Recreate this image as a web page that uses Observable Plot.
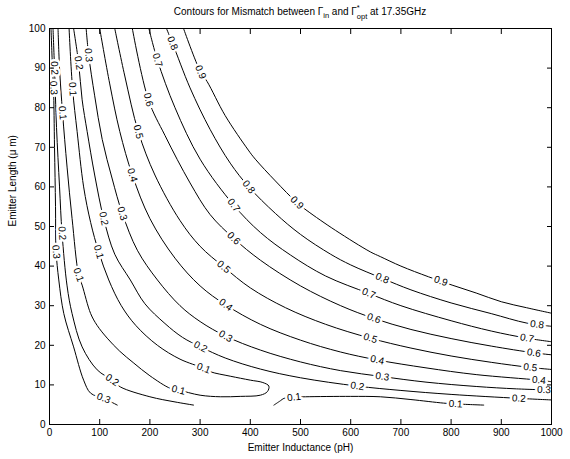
<!DOCTYPE html>
<html><head><meta charset="utf-8">
<script src="https://cdn.jsdelivr.net/npm/d3@7"></script>
<script src="https://cdn.jsdelivr.net/npm/@observablehq/plot@0.6"></script>
<style>
body{margin:0;background:#fff;font-family:"Liberation Sans",Arial,sans-serif;}
#wrap{width:570px;height:459px;position:relative;overflow:hidden;}
#title{height:20px;box-sizing:border-box;padding:3px 19px 0 49px;text-align:center;font-size:10px;line-height:11px;white-space:nowrap;}
#title sub{font-size:7.5px;vertical-align:-3px;line-height:0;}
.st{display:inline-block;vertical-align:-4px;line-height:9px;font-size:7.5px;text-align:left;}
.st span{display:block;height:9px;}
</style></head>
<body><div id="wrap"><div id="title">Contours for Mismatch between &Gamma;<sub>in</sub> and &Gamma;<span class="st"><span>*</span><span>opt</span></span> at 17.35GHz</div><div id="chart"></div></div>
<script>
const xTicks = [0,100,200,300,400,500,600,700,800,900,1000];
const yTicks = [0,10,20,30,40,50,60,70,80,90,100];
const xLabel = "Emitter Inductance (pH)";
const yLabel = "Emitter Length (\u03bc m)";

// contour polylines: [inductance pH, length um]
const c09 = [[267,100],[301,89],[314,86.6],[350,78],[396,69.3],[410,67],[450,61.5],[493,56],[513,54],[570,49],[639,43.6],[659,42.4],[700,40],[755,37.3],[802,35.2],[850,33.2],[900,31],[950,29.5],[1000,28.1]];
const c08 = [[233,100],[245,96.3],[280,85],[320,74.5],[360,66],[397,60],[450,53.3],[500,48],[560,43],[600,40.3],[663,36.9],[720,34],[800,30.7],[880,28],[951,25.6],[1000,24.8]];
const c07 = [[198,100],[215,92],[250,80],[300,67],[367,55.4],[420,48.5],[480,42.8],[550,37.5],[636,33.1],[700,30],[800,26.2],[880,23.6],[951,21.8],[1000,20.9]];
const c06 = [[165,100],[197,82],[230,73],[280,61],[320,53],[367,47],[420,41.5],[500,35],[580,30],[646,26.8],[720,24],[800,21.7],[880,19.8],[965,18.1],[1000,17.6]];
const c05 = [[130,100],[150,88],[177,73.9],[210,63],[260,51.5],[300,45],[347,39.8],[400,34.5],[470,29.5],[550,25.3],[639,21.8],[720,19.3],[800,17.3],[880,15.7],[958,14.4],[1000,13.9]];
const c04 = [[100,100],[120,86],[140,74],[165,63],[200,52],[250,42],[300,35],[351,30.2],[420,25.3],[500,21.3],[580,18.3],[653,16.3],[750,14.3],[850,12.6],[975,11.2],[1000,10.8]];
const c03R = [[73,100],[78,93.3],[90,83],[105,72],[125,62],[145,53.3],[175,44],[215,36.5],[260,30],[300,26],[351,22.3],[420,18.8],[500,15.8],[580,13.6],[663,12.1],[750,10.7],[850,9.6],[930,9.0],[1000,8.7]];
const c02R = [[48,100],[58,91.3],[65,82],[75,74],[90,63],[108,52],[130,43],[161,36.5],[190,30.5],[230,25.5],[265,22],[301,19.6],[350,16.8],[420,14],[500,11.8],[613,9.7],[700,8.6],[800,7.6],[935,6.6],[1000,6.2]];
const c01 = [[39,100],[46,84.7],[55,74],[68,60],[82,51],[98,43.6],[118,36.5],[143,30],[172,25],[215,20],[260,16.5],[307,14.2],[321,13.3],[360,12.2],[400,11.2],[425,10.6],[437,9.7],[434,8.3],[420,7.4],[380,7.1],[341,7.0],[300,7.4],[257,8.7],[241,9.1],[200,12.3],[168,15.5],[140,18.5],[115,21.8],[95,25],[82,28],[65,35.2],[58,37.8],[45,52],[35,65],[26,78.7],[20,90],[17,100]];
const c02L = [[7,100],[10,90],[14,75],[20,60],[25,48.3],[35,35],[45,28],[65,19.6],[95,13.8],[125,11.2],[141,9.5],[200,7],[250,5.7],[287,4.9]];
const c03L = [[3,100],[6,90],[8,85],[10,70],[12,55],[13,44],[18.5,36.5],[28.5,28],[48,19.6],[68,11.2],[82,7.9],[108,6.6],[135,4.9]];
const c01B = [[447,4.9],[460,6],[467,6.6],[487,6.9],[510,7.0],[600,7.1],[659,7.0],[720,6.3],[785,5.4],[809,5.2],[865,4.9]];

// where the inline labels sit
const lab09 = [[301,89],[493,56],[779,36]];
const lab08 = [[245,96.3],[397,60],[663,36.9],[971,25.1]];
const lab07 = [[215,92],[367,55.4],[636,33.1],[951,21.8]];
const lab06 = [[197,82],[367,47],[646,26.8],[965,18.1]];
const lab05 = [[177,73.9],[347,39.8],[639,21.8],[958,14.4]];
const lab04 = [[165,63],[351,30.2],[653,16.3],[975,11.2]];
const lab03R = [[78,93.3],[145,53.3],[351,22.3],[663,12.1],[985,8.6]];
const lab02R = [[58,91.3],[108,52],[301,19.6],[613,9.7],[935,6.6]];
const lab01 = [[46,84.7],[98,43.6],[307,14.2],[257,8.7],[58,37.8],[26,78.7]];
const lab02L = [[10,90],[25,48.3],[125,11.2]];
const lab03L = [[8,85],[12,43.6],[108,6.6]];
const lab01B = [[487,6.9],[809,5.2]];

const contours = [
  {id:"c09", level:"0.9", pts:c09, at:lab09},
  {id:"c08", level:"0.8", pts:c08, at:lab08},
  {id:"c07", level:"0.7", pts:c07, at:lab07},
  {id:"c06", level:"0.6", pts:c06, at:lab06},
  {id:"c05", level:"0.5", pts:c05, at:lab05},
  {id:"c04", level:"0.4", pts:c04, at:lab04},
  {id:"c03R", level:"0.3", pts:c03R, at:lab03R},
  {id:"c02R", level:"0.2", pts:c02R, at:lab02R},
  {id:"c01", level:"0.1", pts:c01, at:lab01},
  {id:"c02L", level:"0.2", pts:c02L, at:lab02L},
  {id:"c03L", level:"0.3", pts:c03L, at:lab03L},
  {id:"c01B", level:"0.1", pts:c01B, at:lab01B}
];

const W=570, H=439, ML=49, MR=19, MT=8, MB=35;
const dims = {width:W, height:H, marginLeft:ML, marginRight:MR, marginTop:MT, marginBottom:MB,
  x:{domain:[0,1000]}, y:{domain:[0,100]}};
const probe = Plot.plot({...dims, marks:[Plot.frame()]});
const sx = probe.scale("x"), sy = probe.scale("y");

function snap(c, lx, ly) {
  const P = c.pts.map(([a,b]) => [sx.apply(a), sy.apply(b)]);
  const qx = sx.apply(lx), qy = sy.apply(ly);
  let best = null;
  for (let i = 0; i < P.length-1; i++) {
    const [x0,y0] = P[i], [x1,y1] = P[i+1];
    const dx = x1-x0, dy = y1-y0, L2 = dx*dx+dy*dy || 1;
    let t = ((qx-x0)*dx + (qy-y0)*dy)/L2; t = Math.max(0, Math.min(1, t));
    const px = x0+t*dx, py = y0+t*dy;
    const d = (px-qx)**2 + (py-qy)**2;
    if (!best || d < best.d) best = {d, px, py, dx, dy};
  }
  let ang = Math.atan2(best.dy, best.dx)*180/Math.PI;
  if (ang > 90) ang -= 180; if (ang < -90) ang += 180;
  return {x: sx.invert(best.px), y: sy.invert(best.py), text: c.level, angle: ang};
}

const lineRows = contours.flatMap(c => c.pts.map(([x,y]) => ({id:c.id, x, y})));
const labelRows = contours.flatMap(c => c.at.map(([x,y]) => snap(c, x, y)));

const chart = Plot.plot({
  ...dims,
  style:{fontFamily:'"Liberation Sans", Arial, sans-serif', fontSize:"10px", background:"white", color:"black", overflow:"visible"},
  marks:[
    Plot.line(lineRows, {x:"x", y:"y", z:"id", stroke:"black", strokeWidth:1, curve:"catmull-rom"}),
    Plot.text(labelRows, {x:"x", y:"y", text:"text", rotate:"angle", fill:"black", stroke:"white", strokeWidth:5, paintOrder:"stroke", strokeLinejoin:"round", fontSize:10}),
    Plot.frame({stroke:"black"}),
    Plot.axisX(xTicks, {anchor:"bottom", tickSize:-5, tickPadding:9, tickFormat:d => String(d), label:null}),
    Plot.axisX(xTicks, {anchor:"top", tickSize:-5, tickFormat:() => "", label:null}),
    Plot.axisY(yTicks, {anchor:"left", tickSize:-5, tickPadding:9, tickFormat:d => String(d), label:null}),
    Plot.axisY(yTicks, {anchor:"right", tickSize:-5, tickFormat:() => "", label:null}),
    Plot.text([xLabel], {frameAnchor:"bottom", dy:26, text:d => d, fontSize:10}),
    Plot.text([yLabel], {frameAnchor:"left", dx:-37, rotate:-90, text:d => d, fontSize:10})
  ]
});
document.getElementById("chart").appendChild(chart);
</script></body></html>
